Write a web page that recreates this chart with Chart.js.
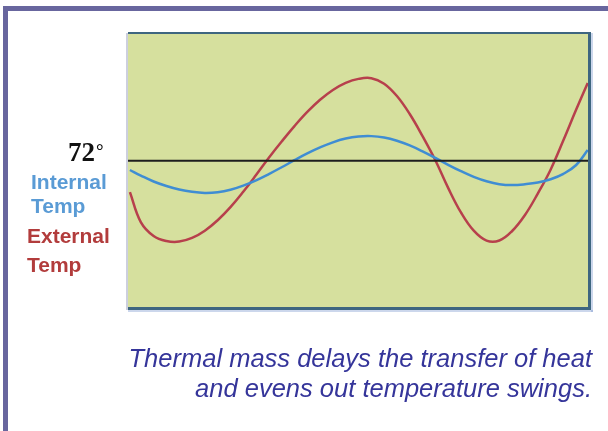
<!DOCTYPE html>
<html>
<head>
<meta charset="utf-8">
<script src="https://cdn.jsdelivr.net/npm/chart.js@4"></script>
<style>
  body { margin: 0; background: #fff; }
  #wrap { position: relative; width: 608px; height: 431px; overflow: hidden; background: #fff; }
  #chart { position: absolute; left: 0; top: 0; }
  .bar { position: absolute; background: #68669e; }
  .lbl { position: absolute; font-family: "Liberation Sans", Arial, sans-serif; font-weight: bold; font-size: 21px; line-height: 21px; white-space: nowrap; }
  .blue { color: #5a9bd5; }
  .red { color: #b23c3c; }
  #deg72 { position: absolute; left: 68px; top: 139px; font-family: "Liberation Serif", "Times New Roman", serif; font-weight: bold; font-size: 27px; line-height: 27px; color: #111; }
  #degsign { position: absolute; left: 96px; top: 141px; font-family: "Liberation Serif", serif; font-weight: bold; font-size: 19px; line-height: 19px; color: #111; }
  #caption { position: absolute; right: 16px; top: 343px; font-family: "Liberation Sans", Arial, sans-serif; font-style: italic; font-size: 25.5px; line-height: 30px; color: #35359a; text-align: right; white-space: nowrap; }
</style>
</head>
<body>
<div id="wrap">
  <div class="bar" style="left:3px;top:6px;width:605px;height:5px;"></div>
  <div class="bar" style="left:3px;top:6px;width:5px;height:425px;"></div>
  <canvas id="chart" width="608" height="431"></canvas>
  <div id="deg72">72</div><div id="degsign">°</div>
  <div class="lbl blue" style="left:31px;top:171px;">Internal</div>
  <div class="lbl blue" style="left:31px;top:195px;">Temp</div>
  <div class="lbl red" style="left:27px;top:225px;">External</div>
  <div class="lbl red" style="left:27px;top:254px;">Temp</div>
  <div id="caption">Thermal mass delays the transfer of heat<br>and evens out temperature swings.</div>
</div>
<script>
// horas (eje x, sin marcas)
var horas = [0.15, 1, 2, 3, 4, 5, 6, 7, 8, 9, 10, 11, 12, 13, 14, 15, 16, 17, 18,
             19, 20, 21, 22, 23, 24, 25, 26, 27, 28, 29, 30, 31, 32, 33, 34, 35, 35.9];

// temperatura exterior (grados F)
var tempExterna = [68.8, 65.75, 64.33, 63.82, 63.76, 64.13, 64.87, 65.93, 67.27, 68.84, 70.54, 72.3, 73.95, 75.52, 76.96, 78.2, 79.2, 79.92, 80.33,
                   80.4, 79.84, 78.58, 76.75, 74.5, 72.04, 69.23, 66.73, 64.87, 63.86, 63.87, 64.84, 66.47, 68.65, 71.08, 74.07, 77.2, 79.91];

// temperatura interior
var tempInterna = [71.05, 70.49, 69.88, 69.42, 69.06, 68.83, 68.72, 68.79, 69.04, 69.46, 70.0, 70.64, 71.33, 72.05, 72.74, 73.35, 73.87, 74.25, 74.46,
                   74.5, 74.36, 74.03, 73.55, 72.95, 72.28, 71.58, 70.93, 70.35, 69.9, 69.61, 69.52, 69.6, 69.77, 70.11, 70.66, 71.56, 73.09];

var referencia = 72; // linea de 72 grados
var horasMin = 0, horasMax = 36;
var tempMin = 57, tempMax = 85;

function puntos(xs, ys) {
  return xs.map(function (x, i) { return { x: x, y: ys[i] }; });
}

// fondo verde y marco del area
var marco = {
  id: 'marco',
  beforeDatasetsDraw: function (chart) {
    var ctx = chart.ctx, a = chart.chartArea;
    ctx.save();
    ctx.fillStyle = '#d6e09e';
    ctx.fillRect(a.left, a.top, a.right - a.left, a.bottom - a.top);
    ctx.restore();
  },
  afterDatasetsDraw: function (chart) {
    var ctx = chart.ctx, a = chart.chartArea;
    var w = a.right - a.left, h = a.bottom - a.top;
    ctx.save();
    ctx.fillStyle = 'rgba(170,175,200,0.6)';
    ctx.fillRect(a.left - 2, a.top, 2, h + 2);
    ctx.fillStyle = 'rgba(110,140,200,0.35)';
    ctx.fillRect(a.right + 2, a.top, 2, h + 4);
    ctx.fillRect(a.left, a.bottom + 2, w + 4, 2);
    ctx.fillStyle = '#3e6680';
    ctx.fillRect(a.left, a.top - 1, w + 2, 2);
    ctx.fillRect(a.right - 1, a.top - 1, 3, h + 2);
    ctx.fillRect(a.left, a.bottom - 1, w + 2, 3);
    ctx.restore();
  }
};

var ctx = document.getElementById('chart').getContext('2d');
var grafico = new Chart(ctx, {
  type: 'line',
  data: {
    datasets: [{
      label: '72°',
      data: puntos([horasMin, horasMax], [referencia, referencia]),
      borderColor: '#1e1e1e',
      borderWidth: 2,
      pointRadius: 0
    }, {
      label: 'Internal Temp',
      data: puntos(horas, tempInterna),
      borderColor: '#3f8dd3',
      borderWidth: 2.5,
      pointRadius: 0,
      tension: 0.4
    }, {
      label: 'External Temp',
      data: puntos(horas, tempExterna),
      borderColor: '#b7404c',
      borderWidth: 2.5,
      pointRadius: 0,
      tension: 0.4
    }]
  },
  options: {
    responsive: false,
    animation: false,
    devicePixelRatio: 1,
    layout: { padding: { left: 128, top: 33, right: 19, bottom: 123 } },
    plugins: { legend: { display: false }, tooltip: { enabled: false } },
    scales: {
      x: { type: 'linear', min: horasMin, max: horasMax, display: false },
      y: { min: tempMin, max: tempMax, display: false }
    }
  },
  plugins: [marco]
});
</script>
</body>
</html>
